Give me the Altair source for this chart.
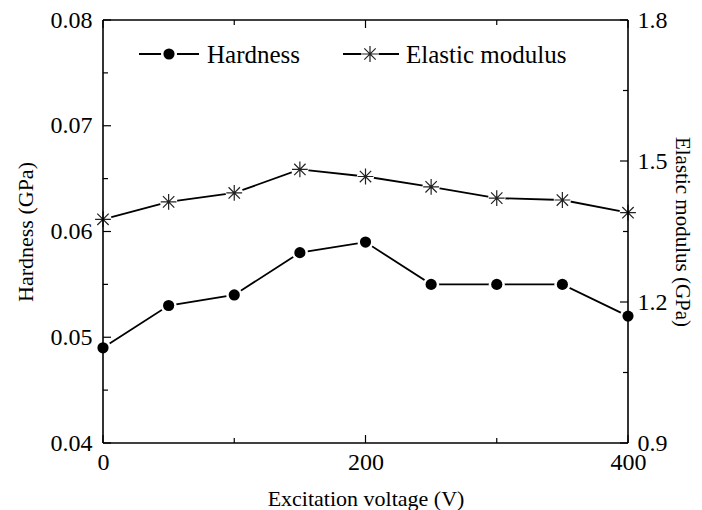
import altair as alt
import pandas as pd

# ---- data ----
voltage = [0, 50, 100, 150, 200, 250, 300, 350, 400]
hardness = [0.049, 0.053, 0.054, 0.058, 0.059, 0.055, 0.055, 0.055, 0.052]
modulus = [1.376, 1.413, 1.432, 1.482, 1.467, 1.445, 1.421, 1.417, 1.390]
series_names = ["Hardness", "Elastic modulus"]

x_major = [0, 200, 400]
x_minor = [100, 300]
left_major = [0.04, 0.05, 0.06, 0.07, 0.08]
left_minor = [0.045, 0.055, 0.065, 0.075]
right_major = [0.9, 1.2, 1.5, 1.8]
right_minor = [1.05, 1.35, 1.65]

W, H = 525, 423
FONT = "Liberation Serif"
STAR = "M-1,0L1,0M0,-1L0,1M-0.72,-0.72L0.72,0.72M-0.72,0.72L0.72,-0.72"

df = pd.DataFrame({"voltage": voltage, "hardness": hardness, "modulus": modulus})

x_scale = alt.Scale(domain=[0, 400], nice=False, zero=False)
x_axis = alt.Axis(values=x_major, format="d", title="Excitation voltage (V)",
                  ticks=False, domain=False, grid=False, labelPadding=7,
                  titlePadding=14, labelFontSize=24, titleFontSize=22,
                  labelFont=FONT, titleFont=FONT, labelColor="black",
                  titleColor="black", titleFontWeight="normal", labelFlush=False)
yl_scale = alt.Scale(domain=[0.04, 0.08], nice=False, zero=False)
yl_axis = alt.Axis(values=left_major, format=".2f", title="Hardness (GPa)",
                   ticks=False, domain=False, grid=False, labelPadding=11,
                   titlePadding=13, labelFontSize=24, titleFontSize=22,
                   labelFont=FONT, titleFont=FONT, labelColor="black",
                   titleColor="black", titleFontWeight="normal", labelFlush=False)
yr_scale = alt.Scale(domain=[0.9, 1.8], nice=False, zero=False)
yr_axis = alt.Axis(values=right_major, format=".1f", title="Elastic modulus (GPa)",
                   orient="right", ticks=False, domain=False, grid=False,
                   labelPadding=9, titlePadding=4, labelFontSize=24,
                   titleFontSize=21, labelFont=FONT, titleFont=FONT,
                   labelColor="black", titleColor="black",
                   titleFontWeight="normal", labelFlush=False)

X = alt.X("voltage:Q", scale=x_scale, axis=x_axis)
base = alt.Chart(df)

# ----- hardness group (left axis) -----
h_line = base.mark_line(color="black", strokeWidth=1.8).encode(
    x=X, y=alt.Y("hardness:Q", scale=yl_scale, axis=yl_axis))
h_halo = base.mark_point(shape="circle", filled=True, color="white", opacity=1,
                         size=260).encode(
    x=X, y=alt.Y("hardness:Q", scale=yl_scale, axis=yl_axis))
h_pts = base.mark_point(shape="circle", filled=True, color="black", opacity=1,
                        size=125).encode(
    x=X, y=alt.Y("hardness:Q", scale=yl_scale, axis=yl_axis))


def yticks(vals, scale, axis, x0, x1):
    return alt.Chart(pd.DataFrame({"v": vals})).mark_rule(
        color="black", strokeWidth=1.2).encode(
        y=alt.Y("v:Q", scale=scale, axis=axis),
        x=alt.value(x0), x2=alt.value(x1))


def xticks(vals, y0, y1):
    return alt.Chart(pd.DataFrame({"voltage": vals})).mark_rule(
        color="black", strokeWidth=1.2).encode(
        x=X, y=alt.value(y0), y2=alt.value(y1))


left_group = alt.layer(
    h_line, h_halo, h_pts,
    yticks(left_major, yl_scale, yl_axis, 0, 8),
    yticks(left_minor, yl_scale, yl_axis, 0, 5),
    xticks(x_major, H, H - 8), xticks(x_minor, H, H - 5),
    xticks(x_major, 0, 8), xticks(x_minor, 0, 5),
)

# ----- modulus group (right axis) -----
m_line = base.mark_line(color="black", strokeWidth=1.8).encode(
    x=X, y=alt.Y("modulus:Q", scale=yr_scale, axis=yr_axis))
m_halo = base.mark_point(shape="circle", filled=True, color="white", opacity=1,
                         size=300).encode(
    x=X, y=alt.Y("modulus:Q", scale=yr_scale, axis=yr_axis))
m_pts = base.mark_point(shape=STAR, filled=False, color="#222", opacity=1,
                        strokeWidth=1.2, size=250).encode(
    x=X, y=alt.Y("modulus:Q", scale=yr_scale, axis=yr_axis))

right_group = alt.layer(
    m_line, m_halo, m_pts,
    yticks(right_major, yr_scale, yr_axis, W, W - 8),
    yticks(right_minor, yr_scale, yr_axis, W, W - 5),
)

# ----- frame -----
one = pd.DataFrame({"k": [0]})
frame = alt.layer(
    alt.Chart(one).mark_rule(color="black", strokeWidth=1.6).encode(
        x=alt.value(0), x2=alt.value(W), y=alt.value(0)),
    alt.Chart(one).mark_rule(color="black", strokeWidth=1.6).encode(
        x=alt.value(0), x2=alt.value(W), y=alt.value(H)),
    alt.Chart(one).mark_rule(color="black", strokeWidth=1.6).encode(
        y=alt.value(0), y2=alt.value(H), x=alt.value(0)),
    alt.Chart(one).mark_rule(color="black", strokeWidth=1.6).encode(
        y=alt.value(0), y2=alt.value(H), x=alt.value(W)),
)

# ----- legend -----
leg_h = pd.DataFrame({"name": [series_names[0]]})
leg_m = pd.DataFrame({"name": [series_names[1]]})
LY = 34
legend = alt.layer(
    alt.Chart(leg_h).mark_rule(color="black", strokeWidth=1.8).encode(
        x=alt.value(36), x2=alt.value(96), y=alt.value(LY)),
    alt.Chart(leg_h).mark_point(shape="circle", filled=True, color="white",
                                opacity=1, size=260).encode(
        x=alt.value(66), y=alt.value(LY)),
    alt.Chart(leg_h).mark_point(shape="circle", filled=True, color="black",
                                opacity=1, size=125).encode(
        x=alt.value(66), y=alt.value(LY)),
    alt.Chart(leg_h).mark_text(align="left", baseline="middle", font=FONT,
                               fontSize=25, color="black").encode(
        x=alt.value(104), y=alt.value(LY + 1), text="name:N"),
    alt.Chart(leg_m).mark_rule(color="black", strokeWidth=1.8).encode(
        x=alt.value(240), x2=alt.value(296), y=alt.value(LY)),
    alt.Chart(leg_m).mark_point(shape="circle", filled=True, color="white",
                                opacity=1, size=300).encode(
        x=alt.value(267), y=alt.value(LY)),
    alt.Chart(leg_m).mark_point(shape=STAR, filled=False, color="#222",
                                opacity=1, strokeWidth=1.2, size=250).encode(
        x=alt.value(267), y=alt.value(LY)),
    alt.Chart(leg_m).mark_text(align="left", baseline="middle", font=FONT,
                               fontSize=25, color="black").encode(
        x=alt.value(303), y=alt.value(LY + 1), text="name:N"),
)

chart = alt.layer(left_group, right_group, frame, legend).resolve_scale(
    y="independent"
).properties(
    width=W, height=H,
    padding={"left": 103, "top": 20, "right": 74, "bottom": 67},
    autosize=alt.AutoSizeParams(type="none"),
    background="white",
).configure_view(stroke=None)

chart.save("out.html", embed_options={"renderer": "svg", "actions": False})
